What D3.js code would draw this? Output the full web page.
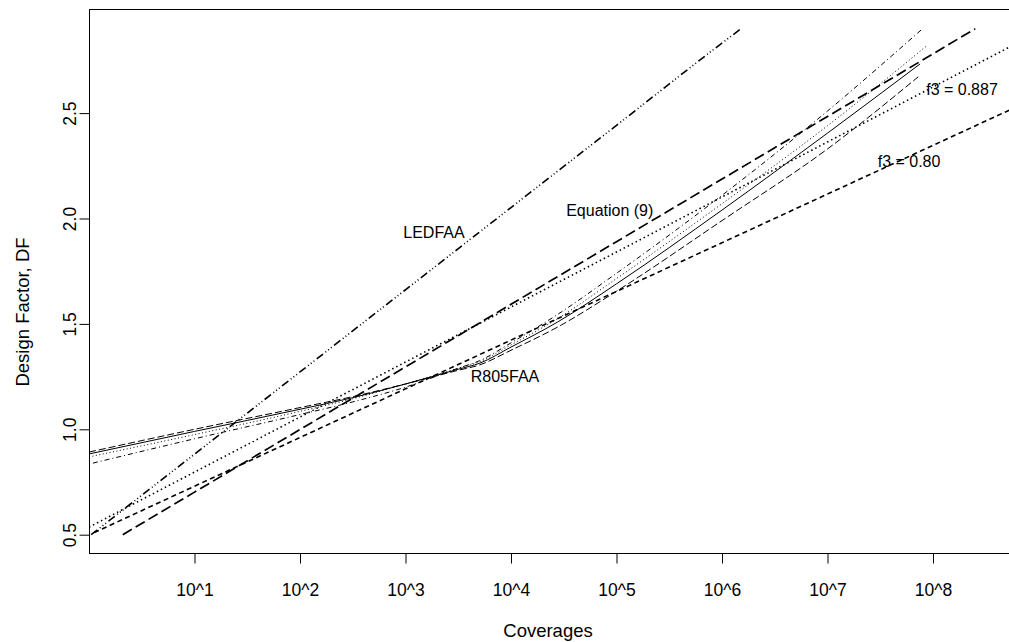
<!DOCTYPE html>
<html>
<head>
<meta charset="utf-8">
<script src="https://cdnjs.cloudflare.com/ajax/libs/d3/7.8.5/d3.min.js"></script>
<style>
  html, body { margin: 0; padding: 0; background: #fff; }
  svg { display: block; }
  text { font-family: "Liberation Sans", Arial, Helvetica, sans-serif; fill: #000; }
</style>
</head>
<body>
<svg id="chart" width="1009" height="642"></svg>
<script>
// ---- data (x values are log10 of coverages) ----
const xTickExps   = [1, 2, 3, 4, 5, 6, 7, 8];
const xTickLabels = ["10^1", "10^2", "10^3", "10^4", "10^5", "10^6", "10^7", "10^8"];
const yTicks      = [0.5, 1.0, 1.5, 2.0, 2.5];
const yTickLabels = ["0.5", "1.0", "1.5", "2.0", "2.5"];

// LEDFAA
const ledfaaExp = [0.02, 1, 2, 3, 4, 5, 6, 6.18];
const ledfaaDF  = [0.50, 0.882, 1.272, 1.662, 2.052, 2.442, 2.832, 2.90];
// Equation (9)
const eq9Exp = [0.32, 1, 2, 3, 4, 5, 6, 7, 8, 8.4];
const eq9DF  = [0.50, 0.702, 0.999, 1.296, 1.593, 1.890, 2.187, 2.484, 2.781, 2.90];
// f3 = 0.80
const f380Exp = [0.05, 1, 2, 3, 4, 5, 6, 7, 8, 9];
const f380DF  = [0.51, 0.730, 0.961, 1.192, 1.423, 1.654, 1.885, 2.116, 2.347, 2.578];
// f3 = 0.887
const f3887Exp = [0, 1, 2, 3, 4, 5, 6, 7, 8, 9];
const f3887DF  = [0.536, 0.797, 1.058, 1.319, 1.580, 1.841, 2.102, 2.363, 2.624, 2.885];
// R805FAA (solid)
const r805Exp = [0, 1, 2, 2.5, 3, 3.5, 3.706, 4.0, 4.442, 5, 6, 7, 7.877];
const r805DF  = [0.883, 0.99, 1.095, 1.15, 1.215, 1.285, 1.314, 1.390, 1.509, 1.690, 2.040, 2.405, 2.733];
// variant curves (thin long dash, thin dotted, thin dot-dash)
const varAExp = [0, 1, 2, 2.5, 3, 3.5, 3.7, 4.0, 4.442, 5, 6, 7, 7.86];
const varADF  = [0.892, 1.0, 1.103, 1.155, 1.215, 1.28, 1.305, 1.375, 1.485, 1.655, 1.99, 2.33, 2.672];
const varBExp = [0, 1, 2, 2.5, 3, 3.5, 3.7, 4.0, 4.442, 5, 6, 7, 7.95];
const varBDF  = [0.869, 0.975, 1.085, 1.145, 1.215, 1.29, 1.32, 1.40, 1.525, 1.715, 2.07, 2.44, 2.823];
const varCExp = [0, 1, 2, 2.5, 3, 3.5, 3.7, 4.0, 4.442, 5, 6, 7, 7.905];
const varCDF  = [0.835, 0.955, 1.07, 1.13, 1.20, 1.29, 1.325, 1.41, 1.545, 1.74, 2.11, 2.51, 2.902];

const labelTexts = ["LEDFAA", "Equation (9)", "R805FAA", "f3 = 0.887", "f3 = 0.80"];
const labelExp   = [3.27, 4.936, 3.943, 8.275, 7.773];
const labelDF    = [1.934, 2.040, 1.253, 2.614, 2.273];

// ---- layout ----
const L = 89, T = 9, R = 1014, B = 553;
const svg = d3.select("#chart");

const x = d3.scaleLog().base(10)
  .domain([1, Math.pow(10, (R - L) / 105.5)])
  .range([L, R]);
const y = d3.scaleLinear().domain([0.4132, 2.9938]).range([B, T]);

svg.append("defs").append("clipPath").attr("id", "clip")
  .append("rect").attr("x", L).attr("y", T).attr("width", R - L).attr("height", B - T);

const plot = svg.append("g").attr("clip-path", "url(#clip)");
const line = d3.line().curve(d3.curveMonotoneX)
  .x(d => x(Math.pow(10, d[0]))).y(d => y(d[1]));
const zip = (a, b) => a.map((v, i) => [v, b[i]]);

const series = [
  { e: r805Exp,  v: r805DF,  w: 1.0, dash: null },
  { e: varAExp,  v: varADF,  w: 1.0, dash: "7,3" },
  { e: varBExp,  v: varBDF,  w: 1.0, dash: "1,2.5" },
  { e: varCExp,  v: varCDF,  w: 1.0, dash: "1,3,5,3" },
  { e: f3887Exp, v: f3887DF, w: 1.6, dash: "1.5,3" },
  { e: f380Exp,  v: f380DF,  w: 1.6, dash: "5,3.5" },
  { e: eq9Exp,   v: eq9DF,   w: 1.7, dash: "10.5,4.5" },
  { e: ledfaaExp,v: ledfaaDF,w: 1.6, dash: "8,3,1,2.5,1,2.5,1,3" }
];
series.forEach(s => {
  plot.append("path")
    .attr("d", line(zip(s.e, s.v)))
    .attr("fill", "none")
    .attr("stroke", "#000")
    .attr("stroke-width", s.w)
    .attr("stroke-dasharray", s.dash);
});

// labels
svg.append("g").selectAll("text").data(labelTexts).join("text")
  .attr("x", (d, i) => x(Math.pow(10, labelExp[i])))
  .attr("y", (d, i) => y(labelDF[i]))
  .attr("dy", "0.36em")
  .attr("text-anchor", "middle")
  .attr("font-size", 16)
  .text(d => d);

// frame
svg.append("rect").attr("x", L + 0.5).attr("y", T + 0.5)
  .attr("width", R - L).attr("height", B - T)
  .attr("fill", "none").attr("stroke", "#000").attr("stroke-width", 1);

// x axis
const xAxis = d3.axisBottom(x)
  .tickValues(xTickExps.map(e => Math.pow(10, e)))
  .tickFormat((d, i) => xTickLabels[i])
  .tickSizeInner(10).tickSizeOuter(0).tickPadding(0);
const gx = svg.append("g").attr("transform", `translate(0,${B + 0.5})`).call(xAxis);
gx.select(".domain").remove();
gx.selectAll("line").attr("stroke", "#000");
gx.selectAll("text").attr("font-size", 17.5).attr("dy", null).attr("y", 42.5)
  .attr("font-family", '"Liberation Sans", Arial, sans-serif');

// y axis
const yAxis = d3.axisLeft(y)
  .tickValues(yTicks)
  .tickFormat((d, i) => yTickLabels[i])
  .tickSizeInner(10).tickSizeOuter(0);
const gy = svg.append("g").attr("transform", `translate(${L + 0.5},0)`).call(yAxis);
gy.select(".domain").remove();
gy.selectAll("line").attr("stroke", "#000");
gy.selectAll("text")
  .attr("font-size", 17.5)
  .attr("font-family", '"Liberation Sans", Arial, sans-serif')
  .attr("text-anchor", "middle")
  .attr("x", null).attr("dy", null)
  .attr("transform", "translate(-13.5,0) rotate(-90)");

// axis titles
svg.append("text").attr("x", 548).attr("y", 637)
  .attr("text-anchor", "middle").attr("font-size", 18.5).text("Coverages");
svg.append("text").attr("transform", "translate(28.5,312) rotate(-90)")
  .attr("text-anchor", "middle").attr("font-size", 18.5).text("Design Factor, DF");
</script>
</body>
</html>
